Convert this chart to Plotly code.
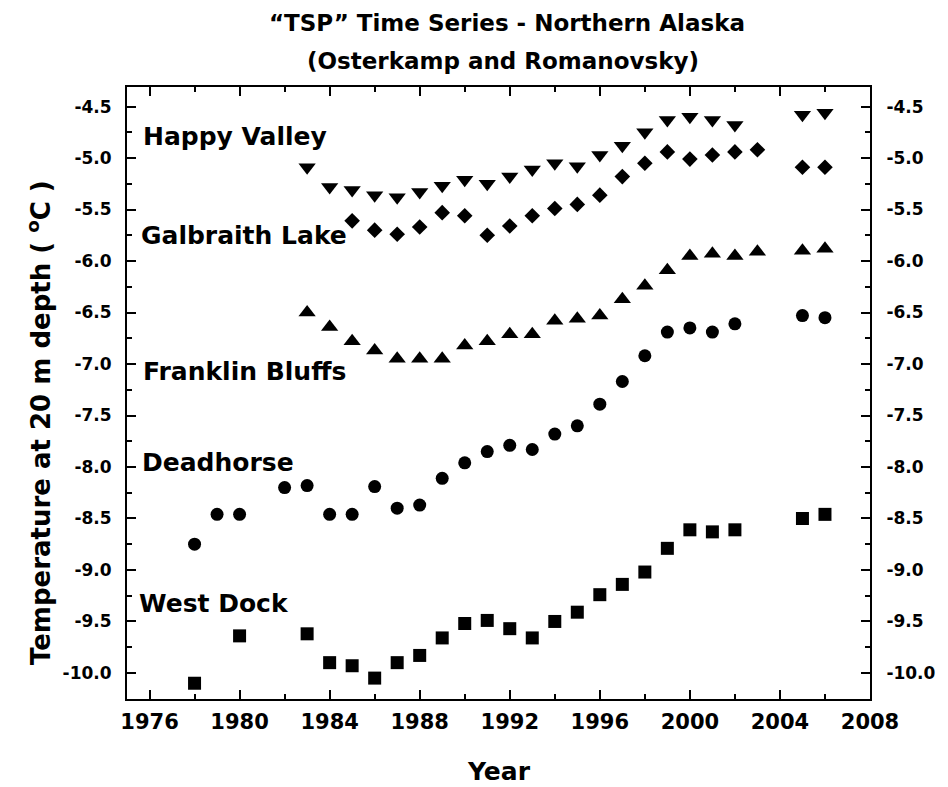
import plotly.graph_objects as go

# TSP borehole temperatures at 20 m depth, northern Alaska
hv_years = [1983, 1984, 1985, 1986, 1987, 1988, 1989, 1990, 1991, 1992, 1993,
            1994, 1995, 1996, 1997, 1998, 1999, 2000, 2001, 2002, 2005, 2006]
hv_temp = [-5.09, -5.28, -5.31, -5.36, -5.38, -5.33, -5.27, -5.21, -5.25, -5.18,
           -5.11, -5.05, -5.08, -4.97, -4.88, -4.75, -4.63, -4.60, -4.63, -4.68,
           -4.58, -4.56]

gl_years = [1985, 1986, 1987, 1988, 1989, 1990, 1991, 1992, 1993, 1994, 1995,
            1996, 1997, 1998, 1999, 2000, 2001, 2002, 2003, 2005, 2006]
gl_temp = [-5.61, -5.70, -5.74, -5.67, -5.53, -5.56, -5.75, -5.66, -5.56, -5.49,
           -5.45, -5.36, -5.18, -5.05, -4.94, -5.01, -4.97, -4.94, -4.92, -5.09,
           -5.09]

fb_years = [1983, 1984, 1985, 1986, 1987, 1988, 1989, 1990, 1991, 1992, 1993,
            1994, 1995, 1996, 1997, 1998, 1999, 2000, 2001, 2002, 2003, 2005, 2006]
fb_temp = [-6.50, -6.64, -6.78, -6.87, -6.95, -6.95, -6.95, -6.82, -6.78, -6.71,
           -6.71, -6.58, -6.56, -6.53, -6.37, -6.24, -6.09, -5.95, -5.93, -5.95,
           -5.91, -5.90, -5.88]

dh_years = [1978, 1979, 1980, 1982, 1983, 1984, 1985, 1986, 1987, 1988, 1989,
            1990, 1991, 1992, 1993, 1994, 1995, 1996, 1997, 1998, 1999, 2000,
            2001, 2002, 2005, 2006]
dh_temp = [-8.75, -8.46, -8.46, -8.20, -8.18, -8.46, -8.46, -8.19, -8.40, -8.37,
           -8.11, -7.96, -7.85, -7.79, -7.83, -7.68, -7.60, -7.39, -7.17, -6.92,
           -6.69, -6.65, -6.69, -6.61, -6.53, -6.55]

wd_years = [1978, 1980, 1983, 1984, 1985, 1986, 1987, 1988, 1989, 1990, 1991,
            1992, 1993, 1994, 1995, 1996, 1997, 1998, 1999, 2000, 2001, 2002,
            2005, 2006]
wd_temp = [-10.10, -9.64, -9.62, -9.90, -9.93, -10.05, -9.90, -9.83, -9.66,
           -9.52, -9.49, -9.57, -9.66, -9.50, -9.41, -9.24, -9.14, -9.02, -8.79,
           -8.61, -8.63, -8.61, -8.50, -8.46]

# y tick values; labels written with a plain hyphen like the original
y_ticks = [-10.0, -9.5, -9.0, -8.5, -8.0, -7.5, -7.0, -6.5, -6.0, -5.5, -5.0, -4.5]
y_ticktext = ["%.1f" % v for v in y_ticks]

# site names and the (year, temp) spot where each one sits
site_names = ["Happy Valley", "Galbraith Lake", "Franklin Bluffs", "Deadhorse", "West Dock"]
site_label_x = [1975.72, 1975.6, 1975.72, 1975.65, 1975.52]
site_label_y = [-4.79, -5.75, -7.07, -7.96, -9.33]

X_RANGE = [1975, 2008]
Y_RANGE = [-10.253, -4.31]

W, H = 948, 787
M = dict(l=127, r=69, t=87, b=88)
PLOT_W = W - M["l"] - M["r"]
PLOT_H = H - M["t"] - M["b"]

BOLD = "DejaVu Sans"

series = [
    (hv_years, hv_temp, "triangle-down", 15),
    (gl_years, gl_temp, "diamond", 12),
    (fb_years, fb_temp, "triangle-up", 15),
    (dh_years, dh_temp, "circle", 13),
    (wd_years, wd_temp, "square", 13),
]

fig = go.Figure()
for x, y, sym, size in series:
    fig.add_trace(go.Scatter(x=x, y=y, mode="markers", showlegend=False,
                             marker=dict(symbol=sym, size=size, color="black",
                                         line_width=0)))
# invisible trace so the right-hand axis gets drawn
fig.add_trace(go.Scatter(x=[1990], y=[-7], yaxis="y2", mode="markers",
                         marker=dict(opacity=0), showlegend=False,
                         hoverinfo="skip"))

axis_common = dict(showline=True, linewidth=2, linecolor="black",
                   ticks="inside", ticklen=9, tickwidth=2, tickcolor="black",
                   showgrid=False, zeroline=False)
y_minor = dict(dtick=0.25, tick0=-10, ticks="inside", ticklen=5,
               tickwidth=2, tickcolor="black")
y_font = dict(family=BOLD, size=17, color="black", weight="bold")

fig.update_layout(
    width=W, height=H,
    paper_bgcolor="white", plot_bgcolor="white",
    margin=M,
    xaxis=dict(range=X_RANGE, dtick=4, tick0=1976, mirror="ticks",
               ticklabelstandoff=3,
               tickfont=dict(family=BOLD, size=21, color="black", weight="bold"),
               minor=dict(dtick=2, tick0=1976, ticks="inside", ticklen=5,
                          tickwidth=2, tickcolor="black"),
               **axis_common),
    yaxis=dict(range=Y_RANGE, tickvals=y_ticks, ticktext=y_ticktext,
               ticklabelstandoff=10, tickfont=y_font, minor=y_minor,
               **axis_common),
    yaxis2=dict(range=Y_RANGE, tickvals=y_ticks, ticktext=y_ticktext,
                overlaying="y", side="right", ticklabelstandoff=11,
                tickfont=y_font, minor=y_minor, **axis_common),
)

for name, lx, ly in zip(site_names, site_label_x, site_label_y):
    fig.add_annotation(x=lx, y=ly, text=name, showarrow=False, xanchor="left",
                       yanchor="middle", xshift=-2,
                       font=dict(family=BOLD, size=25, color="black", weight="bold"))


def px_x(px):
    return (px - M["l"]) / PLOT_W


def px_y(py):
    return (H - M["b"] - py) / PLOT_H


title_font = dict(family=BOLD, size=23, color="black", weight="bold")
fig.add_annotation(xref="paper", yref="paper", x=px_x(512), y=px_y(23),
                   text="\u201cTSP\u201d Time Series - Northern Alaska",
                   showarrow=False, font=title_font, yanchor="middle")
fig.add_annotation(xref="paper", yref="paper", x=px_x(508), y=px_y(61),
                   text="(Osterkamp and Romanovsky)",
                   showarrow=False, font=title_font, yanchor="middle")
fig.add_annotation(xref="paper", yref="paper", x=px_x(504), y=px_y(771),
                   text="Year", showarrow=False, yanchor="middle",
                   font=dict(family=BOLD, size=25, color="black", weight="bold"))
fig.add_annotation(xref="paper", yref="paper", x=px_x(38), y=px_y(423),
                   text="Temperature at 20 m depth ( <sup>o</sup>C )",
                   textangle=-90, showarrow=False, xanchor="center",
                   font=dict(family=BOLD, size=26, color="black", weight="bold"))

# drop the browser's default body margin so the figure sits at the page origin
fig.write_html("out.html", config={"displayModeBar": False},
               post_script="document.body.style.margin='0';")
